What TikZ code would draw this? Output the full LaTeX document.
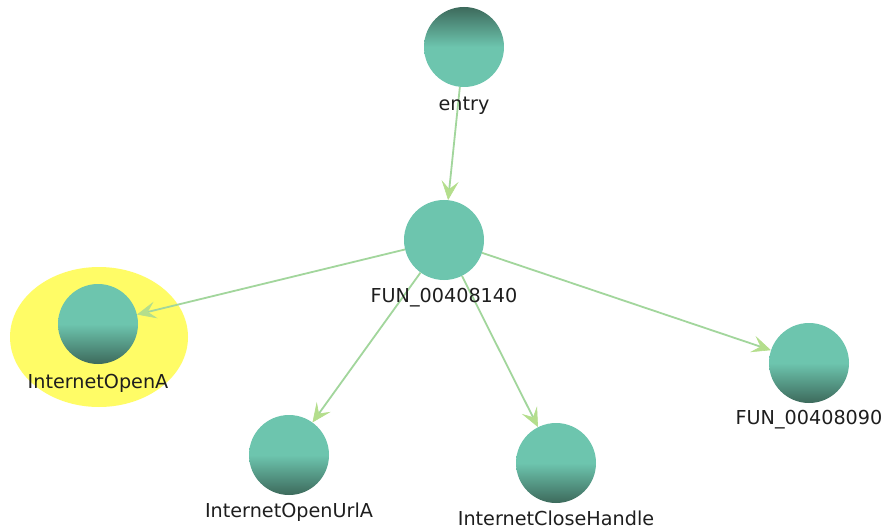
\documentclass[tikz,border=0pt]{standalone}
\usepackage{fontspec}
\setmainfont{DejaVu Sans}
\usetikzlibrary{arrows.meta}
\definecolor{nodelight}{HTML}{6DC5AE}
\definecolor{nodedark}{HTML}{3D6A5C}
\definecolor{edgegreen}{HTML}{A2D69C}
\definecolor{tipgreen}{HTML}{B4DE8C}
\definecolor{hiyellow}{HTML}{FFFC66}
\definecolor{labelgray}{HTML}{1E1E1E}
\pgfdeclareverticalshading{botdark}{100bp}{color(0bp)=(nodedark); color(25bp)=(nodedark); color(50bp)=(nodelight); color(100bp)=(nodelight)}
\pgfdeclareverticalshading{topdark}{100bp}{color(0bp)=(nodelight); color(50bp)=(nodelight); color(75bp)=(nodedark); color(100bp)=(nodedark)}
\tikzset{
  fnode/.style={circle, minimum size=80pt, inner sep=0pt, draw=none},
  fbot/.style={fnode, shading=botdark},
  ftop/.style={fnode, shading=topdark},
  fflat/.style={fnode, fill=nodelight},
  flabel/.style={anchor=base, inner sep=0pt, text=labelgray, font=\fontsize{19.2}{23}\selectfont},
  call/.style={draw=edgegreen, line width=1.8pt, -{Stealth[length=19pt, width=17pt, inset=8pt, color=tipgreen, fill=tipgreen, line width=0.6pt]}},
}
\begin{document}
\begin{tikzpicture}[x=1pt, y=-1pt]
\useasboundingbox (0,0) rectangle (885,529);
\fill[white] (0,0) rectangle (885,529);
% highlight
\fill[hiyellow] (99,337) ellipse [x radius=89, y radius=70];
% nodes
\node[ftop]  (entry) at (464,47) {};
\node[fflat] (f140)  at (444,240) {};
\node[fbot]  (openA) at (98,324) {};
\node[fbot]  (f090)  at (809,363) {};
\node[fbot]  (url)   at (289,455) {};
\node[fbot]  (close) at (556,463) {};
% edges
\draw[call] (entry) -- (f140);
\draw[call] (f140) -- (openA);
\draw[call] (f140) -- (f090);
\draw[call] (f140) -- (url);
\draw[call] (f140) -- (close);
% labels
\node[flabel] (lentry) at (464,111) {entry};
\node[flabel] (l140)   at (444,302) {FUN\_00408140};
\node[flabel] (lopenA) at (98,388)  {InternetOpenA};
\node[flabel] (l090)   at (809,424) {FUN\_00408090};
\node[flabel] (lurl)   at (289,517) {InternetOpenUrlA};
\node[flabel] (lclose) at (556,525) {InternetCloseHandle};
\end{tikzpicture}
\end{document}
